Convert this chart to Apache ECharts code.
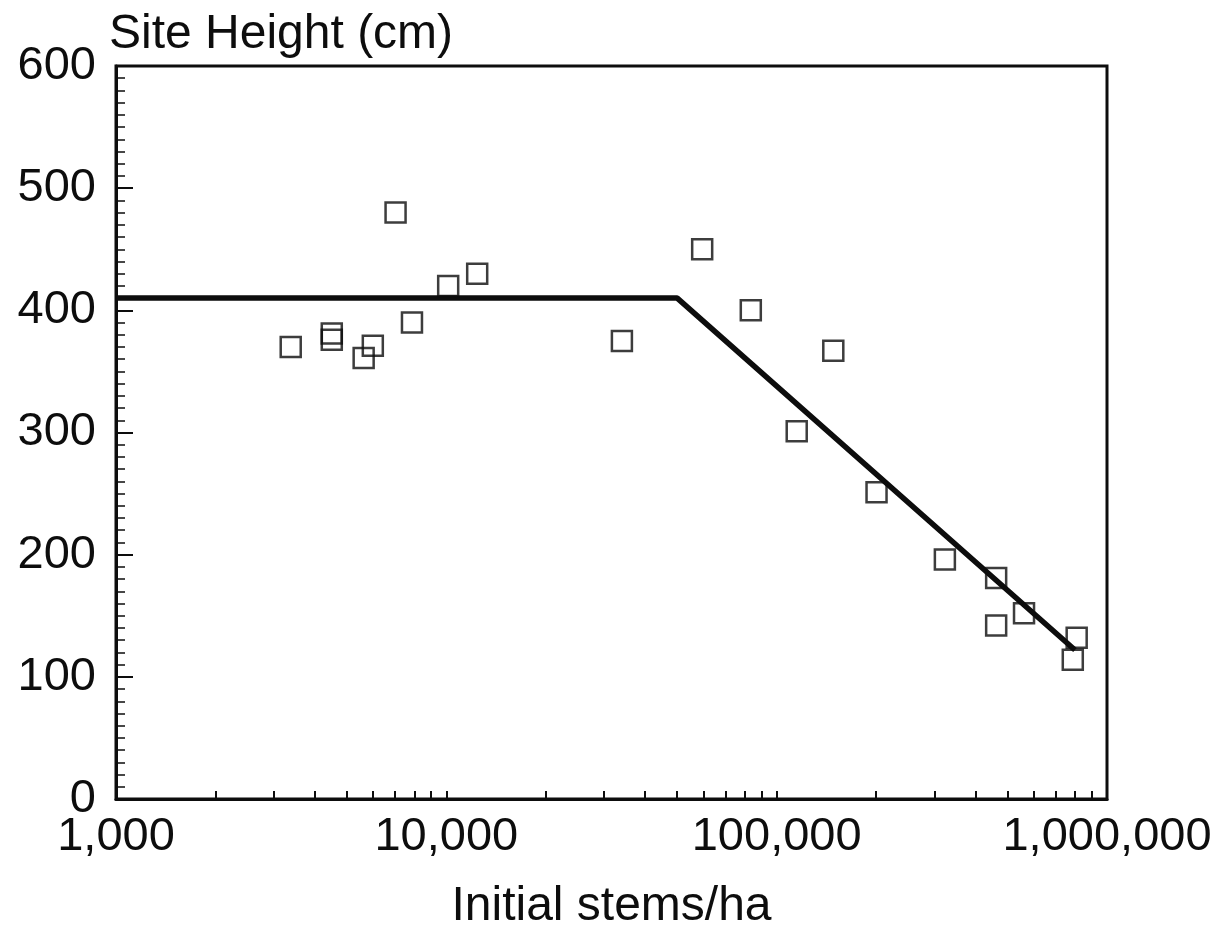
<!DOCTYPE html>
<html>
<head>
<meta charset="utf-8">
<script src="https://cdn.jsdelivr.net/npm/echarts@6/dist/echarts.min.js"></script>
<style>
  html, body { margin: 0; padding: 0; background: #fff; }
  #chart { width: 1232px; height: 946px; }
</style>
</head>
<body>
<div id="chart"></div>
<script>
// Observed plots: initial planting density (stems/ha) and site height (cm)
const stems = [3380, 4500, 4500, 5620, 5990, 7020, 7870, 10130, 12400, 34000,
               59500, 83500, 115000, 148400, 200600, 323000, 461800, 461800,
               560800, 787800, 809500];
const heights = [370, 381, 376, 361, 371, 480, 390, 420, 430, 375,
                 450, 400, 301, 367, 251, 196, 181, 142, 152, 114, 132];

// Segmented fit: plateau, then decline with log density
const fitStems = [1000, 50000, 800000];
const fitHeights = [410, 410, 122];

// Axis ranges and tick labels
const xMin = 1000, xMax = 1000000;
const yTicks = [0, 100, 200, 300, 400, 500, 600];

// Tick marks at 1..9 x each decade, placed on a log10 helper axis
const decadeTicks = [];
for (let e = 3; e <= 6; e++) {
  for (let m = 1; m <= 9; m++) {
    if (e === 6 && m > 1) break;
    decadeTicks.push(e + Math.log10(m));
  }
}

const font = '"Liberation Sans", Arial, Helvetica, sans-serif';
const ink = '#0d0d0d';

const chart = echarts.init(document.getElementById('chart'), null, { renderer: 'canvas' });

chart.setOption({
  backgroundColor: '#fff',
  animation: false,
  title: {
    text: 'Site Height (cm)',
    left: 109,
    top: 11,
    padding: 0,
    textStyle: { fontFamily: font, fontSize: 48, fontWeight: 'normal', color: ink }
  },
  grid: {
    left: 116, right: 125, top: 66, bottom: 147,
    show: true, borderColor: ink, borderWidth: 3, backgroundColor: 'transparent'
  },
  xAxis: [
    {
      type: 'log',
      logBase: 10,
      min: xMin,
      max: xMax,
      name: 'Initial stems/ha',
      nameLocation: 'middle',
      nameGap: 84,
      nameTextStyle: { fontFamily: font, fontSize: 48, color: ink },
      axisLine: { show: true, lineStyle: { color: ink, width: 3 } },
      axisTick: { show: false },
      splitLine: { show: false },
      axisLabel: {
        fontFamily: font, fontSize: 47, color: ink, margin: 15,
        formatter: v => Math.round(v).toLocaleString('en-US')
      }
    },
    {
      type: 'value',
      min: 3,
      max: 6,
      position: 'bottom',
      axisLine: { show: false },
      axisLabel: { show: false },
      splitLine: { show: false },
      axisTick: {
        show: true, inside: true, length: 8,
        customValues: decadeTicks,
        lineStyle: { color: ink, width: 2 }
      }
    }
  ],
  yAxis: {
    type: 'value',
    min: yTicks[0],
    max: yTicks[yTicks.length - 1],
    interval: 100,
    axisLine: { show: true, lineStyle: { color: ink, width: 3 } },
    axisTick: { show: true, inside: true, length: 17, lineStyle: { color: ink, width: 2 } },
    minorTick: { show: true, splitNumber: 10, length: 9, lineStyle: { color: ink, width: 1.5 } },
    splitLine: { show: false },
    axisLabel: { fontFamily: font, fontSize: 47, color: ink, margin: 20 }
  },
  series: [
    {
      type: 'line',
      xAxisIndex: 0,
      data: fitStems.map((s, i) => [s, fitHeights[i]]),
      symbol: 'none',
      lineStyle: { color: ink, width: 5.5 },
      z: 3
    },
    {
      type: 'scatter',
      xAxisIndex: 0,
      data: stems.map((s, i) => [s, heights[i]]),
      symbol: 'rect',
      symbolSize: 20,
      itemStyle: { color: 'rgba(0,0,0,0)', borderColor: ink, borderWidth: 2.5 },
      z: 4
    }
  ]
});
</script>
</body>
</html>
